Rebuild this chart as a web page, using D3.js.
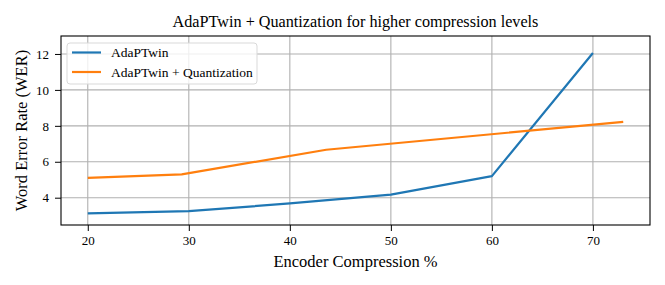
<!DOCTYPE html>
<html>
<head>
<meta charset="utf-8">
<script src="https://cdn.jsdelivr.net/npm/d3@7"></script>
<style>
  body { margin: 0; background: #fff; }
  text { font-family: "Liberation Serif", "Times New Roman", serif; fill: #000; }
</style>
</head>
<body>
<div id="chart"></div>
<script>
// data
var adaX = [20, 30, 40, 50, 60, 70];
var adaWER = [3.13, 3.25, 3.68, 4.17, 5.2, 12.05];
var quantX = [20, 29.3, 43.6, 73];
var quantWER = [5.1, 5.3, 6.67, 8.22];
var xTicks = [20, 30, 40, 50, 60, 70];
var yTicks = [4, 6, 8, 10, 12];
var seriesNames = ["AdaPTwin", "AdaPTwin + Quantization"];
var colors = ["#1f77b4", "#ff7f0e"];

var width = 665, height = 285;
var margin = { top: 36, right: 15, bottom: 60, left: 61 };
var w = width - margin.left - margin.right,
    h = height - margin.top - margin.bottom;

var svg = d3.select("#chart").append("svg")
  .attr("width", width)
  .attr("height", height);

var g = svg.append("g")
  .attr("transform", "translate(" + margin.left + "," + margin.top + ")");

var x = d3.scaleLinear().domain([17.35, 75.65]).range([0, w]);
var y = d3.scaleLinear().domain([2.48, 13.0]).range([h, 0]);

// grid
g.append("g").selectAll("line")
  .data(xTicks)
  .enter().append("line")
  .attr("x1", function(d) { return x(d); })
  .attr("x2", function(d) { return x(d); })
  .attr("y1", 0).attr("y2", h)
  .style("stroke", "#b0b0b0")
  .style("stroke-width", 1.1);

g.append("g").selectAll("line")
  .data(yTicks)
  .enter().append("line")
  .attr("y1", function(d) { return y(d); })
  .attr("y2", function(d) { return y(d); })
  .attr("x1", 0).attr("x2", w)
  .style("stroke", "#b0b0b0")
  .style("stroke-width", 1.1);

// axes
var xAxis = g.append("g")
  .attr("transform", "translate(0," + h + ")")
  .call(d3.axisBottom(x).tickValues(xTicks).tickSize(6).tickPadding(5));
var yAxis = g.append("g")
  .call(d3.axisLeft(y).tickValues(yTicks).tickSize(6).tickPadding(6));

[xAxis, yAxis].forEach(function(a) {
  a.select(".domain").remove();
  a.selectAll("line").style("stroke", "#000").style("stroke-width", 1);
  a.selectAll("text")
    .style("font-family", "'Liberation Serif', 'Times New Roman', serif")
    .style("font-size", "13px");
});

// lines
var line = d3.line()
  .x(function(d) { return x(d[0]); })
  .y(function(d) { return y(d[1]); });

var series = [d3.zip(adaX, adaWER), d3.zip(quantX, quantWER)];

g.selectAll(".series")
  .data(series)
  .enter().append("path")
  .attr("class", "series")
  .attr("d", line)
  .style("fill", "none")
  .style("stroke", function(d, i) { return colors[i]; })
  .style("stroke-width", 2.2)
  .style("stroke-linejoin", "round");

// frame
g.append("rect")
  .attr("width", w).attr("height", h)
  .style("fill", "none")
  .style("stroke", "#000")
  .style("stroke-width", 1.1);

// legend
var legend = g.append("g").attr("transform", "translate(6,7)");
legend.append("rect")
  .attr("width", 190).attr("height", 41)
  .attr("rx", 3)
  .style("fill", "rgba(255,255,255,0.8)")
  .style("stroke", "#d9d9d9")
  .style("stroke-width", 1);

seriesNames.forEach(function(name, i) {
  var yy = 9.5 + i * 19.5;
  legend.append("line")
    .attr("x1", 5).attr("x2", 34)
    .attr("y1", yy).attr("y2", yy)
    .style("stroke", colors[i])
    .style("stroke-width", 2.2);
  legend.append("text")
    .attr("x", 44).attr("y", yy)
    .attr("dy", "0.35em")
    .style("font-size", "13.5px")
    .text(name);
});

// titles
svg.append("text")
  .attr("x", margin.left + w / 2)
  .attr("y", 27)
  .attr("text-anchor", "middle")
  .style("font-size", "16.2px")
  .text("AdaPTwin + Quantization for higher compression levels");

svg.append("text")
  .attr("x", margin.left + w / 2)
  .attr("y", 267)
  .attr("text-anchor", "middle")
  .style("font-size", "16.5px")
  .text("Encoder Compression %");

svg.append("text")
  .attr("transform", "translate(27," + (margin.top + h / 2) + ") rotate(-90)")
  .attr("text-anchor", "middle")
  .style("font-size", "16.5px")
  .text("Word Error Rate (WER)");
</script>
</body>
</html>
